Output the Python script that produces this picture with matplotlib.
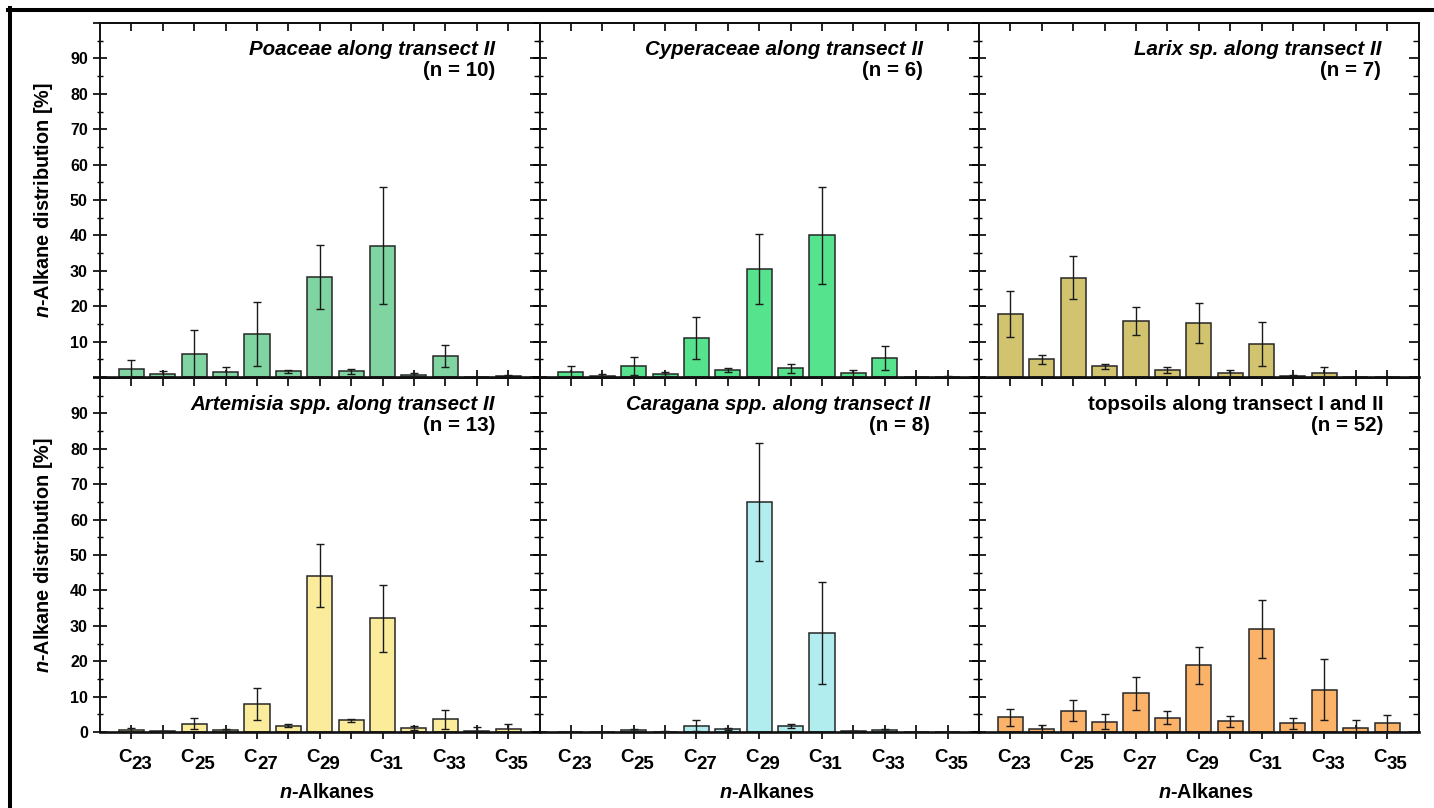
import numpy as np
import matplotlib
matplotlib.use('Agg')
import matplotlib.pyplot as plt
from matplotlib.lines import Line2D
from matplotlib.ticker import MultipleLocator

plt.rcParams['font.family'] = ['Liberation Sans', 'DejaVu Sans']
plt.rcParams['font.weight'] = 'bold'
plt.rcParams['mathtext.fontset'] = 'custom'
plt.rcParams['mathtext.it'] = 'Liberation Sans:italic:bold'
plt.rcParams['mathtext.rm'] = 'Liberation Sans:bold'
plt.rcParams['mathtext.bf'] = 'Liberation Sans:bold'

# n-alkane chain lengths C23..C35
chains = np.arange(23, 36)

# mean distribution [%] and standard deviation
poaceae_mean = [2.4, 0.85, 6.6, 1.4, 12.1, 1.6, 28.2, 1.6, 37.1, 0.6, 5.9, 0.05, 0.3]
poaceae_sd = [2.3, 0.9, 6.6, 1.3, 9.1, 0.5, 9.1, 0.7, 16.5, 0.4, 3.0, 0.05, 0.2]

cyperaceae_mean = [1.5, 0.4, 3.2, 0.85, 11.0, 2.0, 30.5, 2.5, 40.1, 1.0, 5.4, 0.0, 0.1]
cyperaceae_sd = [1.5, 0.35, 2.5, 0.7, 6.0, 0.6, 10.0, 1.3, 13.7, 0.9, 3.3, 0.0, 0.1]

larix_mean = [17.8, 5.0, 28.1, 3.1, 15.8, 2.0, 15.3, 1.0, 9.3, 0.3, 1.0, 0.0, 0.0]
larix_sd = [6.4, 1.2, 6.0, 0.7, 4.0, 0.9, 5.6, 0.9, 6.2, 0.2, 1.9, 0.0, 0.0]

artemisia_mean = [0.65, 0.2, 2.35, 0.55, 8.0, 1.8, 44.1, 3.3, 32.1, 1.1, 3.6, 0.4, 0.95]
artemisia_sd = [0.6, 0.1, 1.5, 0.3, 4.5, 0.5, 8.9, 0.5, 9.5, 0.5, 2.7, 1.0, 1.3]

caragana_mean = [0.05, 0.0, 0.45, 0.1, 1.8, 0.85, 64.9, 1.8, 28.0, 0.3, 0.65, 0.0, 0.0]
caragana_sd = [0.0, 0.0, 0.3, 0.05, 1.5, 0.35, 16.6, 0.6, 14.5, 0.1, 0.3, 0.0, 0.0]

topsoil_mean = [4.1, 0.95, 6.0, 2.9, 10.9, 4.0, 18.9, 3.0, 29.2, 2.45, 12.0, 1.2, 2.45]
topsoil_sd = [2.4, 1.1, 3.0, 2.1, 4.6, 1.8, 5.2, 1.5, 8.2, 1.6, 8.5, 2.3, 2.45]

titles = ['Poaceae along transect II', 'Cyperaceae along transect II',
          'Larix sp. along transect II', 'Artemisia spp. along transect II',
          'Caragana spp. along transect II', 'topsoils along transect I and II']
n_samples = [10, 6, 7, 13, 8, 52]
italic = [True, True, True, True, True, False]
colors = ['#7FD4A1', '#55E38E', '#D2C46F', '#FBEC9C', '#B1EDEF', '#FBB36A']
means = [poaceae_mean, cyperaceae_mean, larix_mean, artemisia_mean, caragana_mean, topsoil_mean]
sds = [poaceae_sd, cyperaceae_sd, larix_sd, artemisia_sd, caragana_sd, topsoil_sd]

# layout (pixels)
W, H = 1434, 808
lefts = [100, 539.5, 979]
aw = 439.5
bottoms = [377, 732]
ah = 354
title_x = [0.899, 0.873, 0.915, 0.899, 0.889, 0.921]

fig = plt.figure(figsize=(W / 100, H / 100), dpi=100)

xpos = np.arange(1, len(chains) + 1)

for i in range(6):
    row, col = divmod(i, 3)
    ax = fig.add_axes([lefts[col] / W, 1 - bottoms[row] / H, aw / W, ah / H])
    ax.bar(xpos, means[i], width=0.8, color=colors[i], edgecolor='#262626',
           linewidth=1.1, zorder=2)
    ax.errorbar(xpos, means[i], yerr=sds[i], fmt='none', ecolor='#1a1a1a',
                elinewidth=1.0, capsize=3.2, capthick=1.0, zorder=3)
    ax.set_xlim(0, 14)
    ax.set_ylim(0, 100)
    ax.set_xticks(xpos)
    ax.set_xticklabels([])
    ax.yaxis.set_major_locator(MultipleLocator(10))
    ax.yaxis.set_minor_locator(MultipleLocator(5))
    ax.tick_params(which='major', direction='inout', length=9.5, width=1.2,
                   top=False, right=False, pad=4, labelsize=11.5)
    ax.tick_params(which='minor', direction='inout', length=5, width=1.0,
                   top=False, right=False)
    for s in ax.spines.values():
        s.set_linewidth(1.4)
        s.set_color('#111111')
    ax.spines['bottom'].set_linewidth(1.9)

    if col == 0:
        yt = list(range(0, 101, 10))
        if row == 0:
            labs = [str(v) if 0 < v < 100 else '' for v in yt]
        else:
            labs = [str(v) if v < 100 else '' for v in yt]
        ax.set_yticks(yt)
        ax.set_yticklabels(labs, fontweight='bold')
    else:
        ax.set_yticklabels([])

    # inward ticks on the top and right edges
    secx = ax.secondary_xaxis('top')
    secx.set_xticks(xpos)
    secx.set_xticklabels([])
    secx.tick_params(direction='in', length=6, width=1.2)
    secx.spines['top'].set_linewidth(1.4)
    secy = ax.secondary_yaxis('right')
    secy.yaxis.set_major_locator(MultipleLocator(10))
    secy.yaxis.set_minor_locator(MultipleLocator(5))
    secy.set_yticklabels([])
    secy.tick_params(which='major', direction='in', length=7, width=1.2)
    secy.tick_params(which='minor', direction='in', length=4, width=1.0)
    secy.spines['right'].set_linewidth(1.4)

    ax.text(title_x[i], 0.924, titles[i], transform=ax.transAxes, ha='right',
            va='center', fontsize=14.8, fontweight='bold',
            fontstyle='italic' if italic[i] else 'normal')
    ax.text(title_x[i], 0.867, '(n = %d)' % n_samples[i], transform=ax.transAxes,
            ha='right', va='center', fontsize=14.8, fontweight='bold')

    if row == 1:
        for k, c in zip(xpos, chains):
            if c % 2 == 1:
                ax.annotate('C', xy=(k, 0), xycoords='data', xytext=(0, -30),
                            textcoords='offset pixels', ha='right', va='baseline',
                            fontsize=13.5, fontweight='bold', annotation_clip=False)
                ax.annotate(str(c), xy=(k, 0), xycoords='data', xytext=(0, -37),
                            textcoords='offset pixels', ha='left', va='baseline',
                            fontsize=13.5, fontweight='bold', annotation_clip=False)
        ax.annotate(r'$\mathit{n}$-Alkanes', xy=(0.517, 0), xycoords='axes fraction',
                    xytext=(0, -66), textcoords='offset pixels', ha='center',
                    va='baseline', fontsize=14.3, fontweight='bold',
                    annotation_clip=False)

for row in range(2):
    yc = 1 - (bottoms[row] - ah / 2) / H
    fig.text(44 / W, yc, r'$\mathit{n}$-Alkane distribution [%]', rotation=90,
             ha='center', va='center', fontsize=14.3, fontweight='bold')

# outer frame of the original figure (cropped at right and bottom)
fig.add_artist(Line2D([8 / W, 1], [1 - 10.3 / H] * 2, transform=fig.transFigure,
                      color='black', linewidth=2.9))
fig.add_artist(Line2D([10.3 / W] * 2, [0, 1 - 8 / H], transform=fig.transFigure,
                      color='black', linewidth=2.9))

fig.savefig('out.png', dpi=100)
